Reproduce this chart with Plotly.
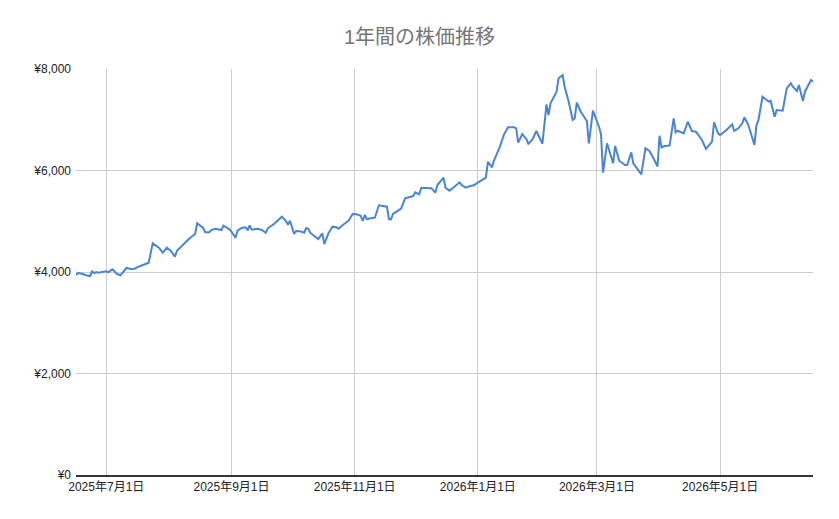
import plotly.graph_objects as go

dates = [
"2025-06-16","2025-06-17","2025-06-19","2025-06-21","2025-06-23","2025-06-24","2025-06-25","2025-06-26","2025-06-27","2025-06-29",
"2025-07-01","2025-07-02","2025-07-04","2025-07-05","2025-07-06","2025-07-08","2025-07-09","2025-07-11","2025-07-13","2025-07-15",
"2025-07-17","2025-07-20","2025-07-22","2025-07-24","2025-07-27","2025-07-29","2025-07-31","2025-08-02","2025-08-04","2025-08-05",
"2025-08-08","2025-08-11","2025-08-14","2025-08-15","2025-08-18","2025-08-19","2025-08-21","2025-08-22","2025-08-24","2025-08-27",
"2025-08-28","2025-08-31","2025-09-01","2025-09-03","2025-09-04","2025-09-06","2025-09-08","2025-09-09","2025-09-10","2025-09-11",
"2025-09-14","2025-09-16","2025-09-18","2025-09-19","2025-09-22","2025-09-24","2025-09-26","2025-09-28","2025-09-29","2025-09-30",
"2025-10-02","2025-10-03","2025-10-05","2025-10-07","2025-10-08","2025-10-09","2025-10-10","2025-10-12","2025-10-14","2025-10-16",
"2025-10-17","2025-10-19","2025-10-21","2025-10-23","2025-10-24","2025-10-26","2025-10-28","2025-10-29","2025-10-31","2025-11-02",
"2025-11-04","2025-11-05","2025-11-06","2025-11-07","2025-11-09","2025-11-11","2025-11-13","2025-11-15","2025-11-17","2025-11-18",
"2025-11-19","2025-11-20","2025-11-22","2025-11-24","2025-11-26","2025-11-28","2025-11-30","2025-12-01","2025-12-03","2025-12-04",
"2025-12-07","2025-12-09","2025-12-11","2025-12-12","2025-12-15","2025-12-16","2025-12-18","2025-12-20","2025-12-23","2025-12-24",
"2025-12-26","2025-12-28","2025-12-30","2026-01-01","2026-01-05","2026-01-06","2026-01-08","2026-01-09","2026-01-12","2026-01-14",
"2026-01-16","2026-01-19","2026-01-20","2026-01-21","2026-01-23","2026-01-25","2026-01-26","2026-01-28","2026-01-30","2026-02-02",
"2026-02-04","2026-02-05","2026-02-06","2026-02-09","2026-02-10","2026-02-12","2026-02-13","2026-02-15","2026-02-17","2026-02-18",
"2026-02-19","2026-02-21","2026-02-24","2026-02-25","2026-02-27","2026-03-02","2026-03-03","2026-03-04","2026-03-06","2026-03-09",
"2026-03-10","2026-03-12","2026-03-15","2026-03-16","2026-03-18","2026-03-19","2026-03-21","2026-03-23","2026-03-25","2026-03-27",
"2026-03-29","2026-03-31","2026-04-01","2026-04-02","2026-04-03","2026-04-06","2026-04-08","2026-04-09","2026-04-10","2026-04-13",
"2026-04-15","2026-04-17","2026-04-19","2026-04-22","2026-04-24","2026-04-27","2026-04-28","2026-04-30","2026-05-01","2026-05-04",
"2026-05-07","2026-05-08","2026-05-10","2026-05-12","2026-05-13","2026-05-15","2026-05-18","2026-05-19","2026-05-20","2026-05-22",
"2026-05-25","2026-05-26","2026-05-28","2026-05-29","2026-06-01","2026-06-03","2026-06-05","2026-06-06","2026-06-08","2026-06-09",
"2026-06-11","2026-06-12","2026-06-15","2026-06-16"]

prices = [
3941,3980,3966,3935,3921,4014,3980,4000,3986,3994,
4014,3994,4053,4020,3966,3935,3980,4079,4059,4065,
4104,4144,4183,4565,4479,4380,4479,4414,4301,4420,
4546,4656,4749,4960,4867,4782,4782,4827,4853,4827,
4912,4841,4794,4676,4814,4867,4881,4822,4920,4834,
4853,4827,4774,4861,4946,5011,5090,5005,4932,5011,
4749,4808,4802,4774,4867,4853,4774,4709,4650,4762,
4552,4762,4893,4881,4853,4920,4971,5011,5143,5137,
5109,5005,5123,5044,5058,5070,5314,5300,5287,5044,
5038,5143,5188,5247,5452,5472,5497,5570,5531,5661,
5661,5649,5563,5714,5858,5661,5602,5669,5767,5714,
5661,5689,5708,5760,5858,6173,6063,6193,6477,6713,
6851,6851,6831,6548,6719,6621,6528,6607,6778,6528,
7304,7093,7324,7553,7817,7882,7651,7356,6995,7028,
7336,7159,6975,6536,7178,6863,6719,5957,6536,6142,
6483,6193,6108,6108,6357,6142,6043,5925,6437,6384,
6240,6079,6684,6453,6477,6493,7028,6753,6784,6733,
6961,6778,6765,6601,6424,6568,6950,6733,6700,6792,
6910,6778,6831,6930,7048,6896,6502,6896,6995,7454,
7356,7375,7060,7192,7178,7619,7718,7651,7566,7685,
7369,7553,7783,7750]

x_tick_vals = ["2025-07-01", "2025-09-01", "2025-11-01", "2026-01-01", "2026-03-01", "2026-05-01"]
x_tick_text = ["2025年7月1日", "2025年9月1日", "2025年11月1日", "2026年1月1日", "2026年3月1日", "2026年5月1日"]
y_tick_vals = [0, 2000, 4000, 6000, 8000]
y_tick_text = ["¥0", "¥2,000", "¥4,000", "¥6,000", "¥8,000"]

title_text = "1年間の株価推移"

FONT = "Arial, 'Liberation Sans', 'Noto Sans CJK JP', sans-serif"

fig = go.Figure()
fig.add_trace(go.Scatter(
    x=dates, y=prices, mode="lines",
    line=dict(color="#4a84d4", width=2),
    showlegend=False,
))

fig.update_layout(
    width=839, height=519,
    margin=dict(l=76, r=26, t=69, b=44),
    paper_bgcolor="white", plot_bgcolor="white",
    font=dict(family=FONT, size=12, color="#222222"),
    title=dict(text=title_text, x=0.5, xanchor="center", y=1 - 37 / 519, yanchor="middle",
               font=dict(family=FONT, size=20, color="#757575")),
    xaxis=dict(
        type="date", range=[dates[0], dates[-1]],
        tickvals=x_tick_vals, ticktext=x_tick_text,
        showgrid=True, gridcolor="#cccccc", gridwidth=1,
        showline=True, linecolor="#333333", linewidth=1.5,
        ticks="", zeroline=False,
        tickfont=dict(size=12, color="#222222"),
    ),
    yaxis=dict(
        range=[0, 8000],
        tickvals=y_tick_vals, ticktext=y_tick_text,
        showgrid=True, gridcolor="#cccccc", gridwidth=1,
        zeroline=False, showline=False, ticks="",
        tickfont=dict(size=12, color="#222222"),
        ticklabelstandoff=4,
    ),
)

fig.write_html("out.html", config={"displayModeBar": False})
